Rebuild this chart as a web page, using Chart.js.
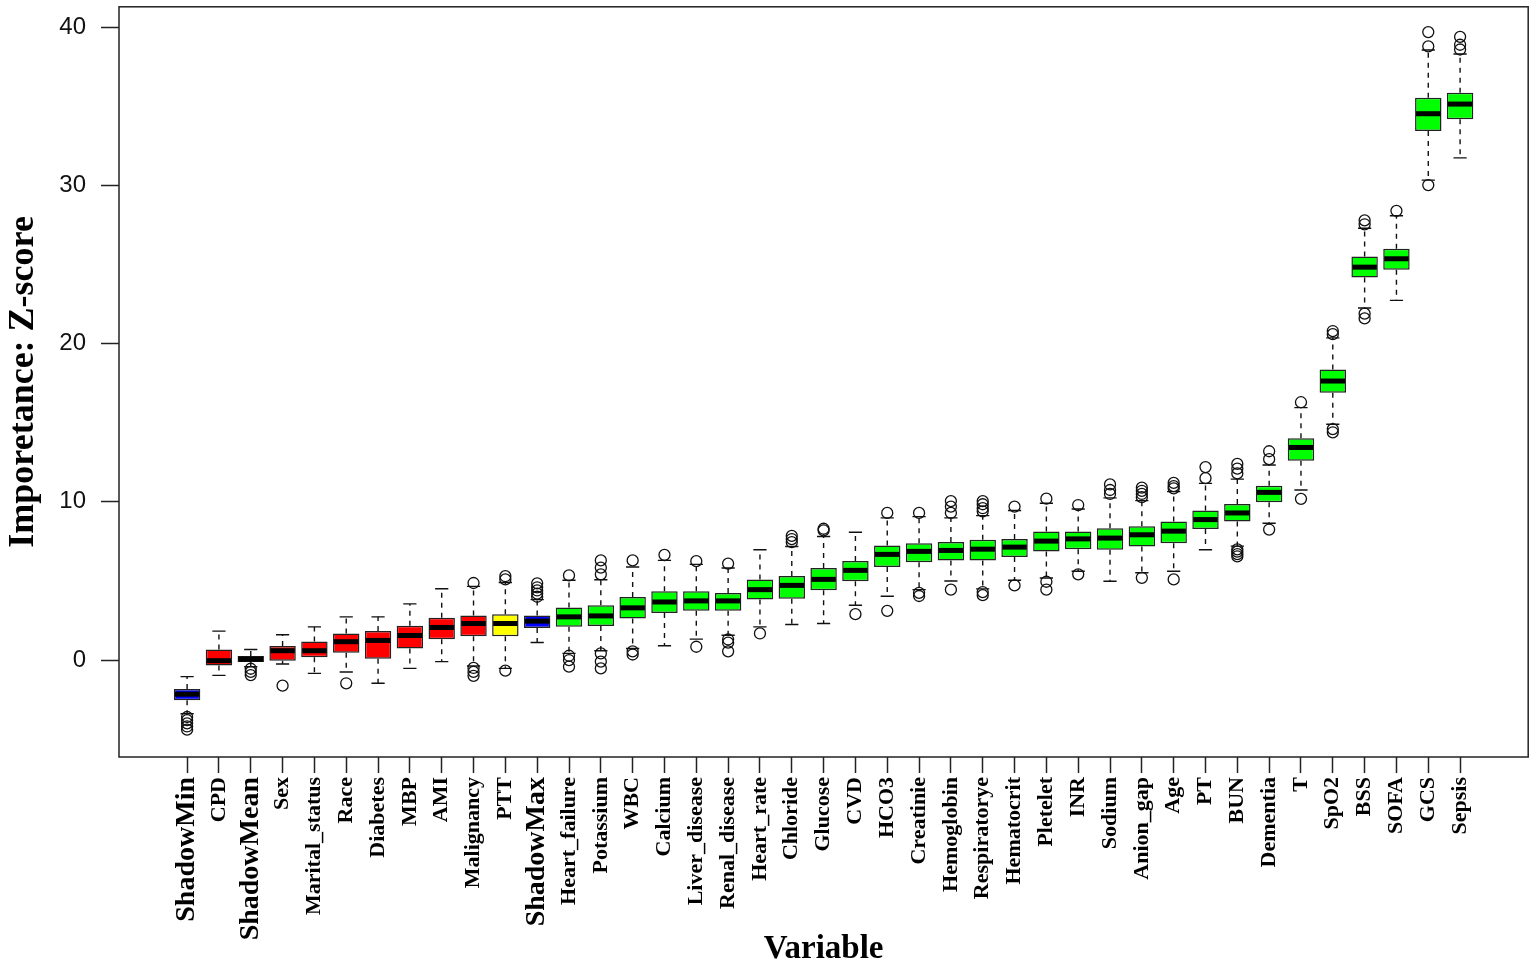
<!DOCTYPE html>
<html>
<head>
<meta charset="utf-8">
<script src="https://cdn.jsdelivr.net/npm/chart.js@4.4.1/dist/chart.umd.min.js"></script>
<style>
body { margin: 0; background: #fff; }
#wrap { width: 1535px; height: 961px; }
</style>
</head>
<body>
<div id="wrap"><canvas id="boruta" width="1535" height="961"></canvas></div>
<script>
var variables = ['ShadowMin', 'CPD', 'ShadowMean', 'Sex', 'Marital_status', 'Race', 'Diabetes', 'MBP', 'AMI', 'Malignancy',
    'PTT', 'ShadowMax', 'Heart_failure', 'Potassium', 'WBC', 'Calcium', 'Liver_disease', 'Renal_disease', 'Heart_rate', 'Chloride',
    'Glucose', 'CVD', 'HCO3', 'Creatinie', 'Hemoglobin', 'Respiratorye', 'Hematocrit', 'Pletelet', 'INR', 'Sodium',
    'Anion_gap', 'Age', 'PT', 'BUN', 'Dementia', 'T', 'SpO2', 'BSS', 'SOFA', 'GCS', 'Sepsis'];
var decision = ['Shadow', 'Rejected', 'Shadow', 'Rejected', 'Rejected', 'Rejected', 'Rejected', 'Rejected', 'Rejected', 'Rejected',
    'Tentative', 'Shadow', 'Confirmed', 'Confirmed', 'Confirmed', 'Confirmed', 'Confirmed', 'Confirmed', 'Confirmed', 'Confirmed',
    'Confirmed', 'Confirmed', 'Confirmed', 'Confirmed', 'Confirmed', 'Confirmed', 'Confirmed', 'Confirmed', 'Confirmed', 'Confirmed',
    'Confirmed', 'Confirmed', 'Confirmed', 'Confirmed', 'Confirmed', 'Confirmed', 'Confirmed', 'Confirmed', 'Confirmed', 'Confirmed', 'Confirmed'];
var lowerWhisker = [-3.4, -0.97, -0.42, -0.25, -0.84, -0.76, -1.47, -0.53, -0.1, -0.38,
    -0.53, 1.11, 0.42, 0.59, 0.73, 0.9, 1.32, 1.57, 2.1, 2.25,
    2.31, 3.46, 4.03, 4.45, 5.0, 4.5, 5.04, 5.19, 5.61, 4.98,
    5.52, 5.61, 6.97, 7.2, 8.65, 10.75, 14.91, 22.26, 22.74, 30.34, 31.75];
var lowerQuartile = [-2.54, -0.34, -0.13, -0.04, 0.17, 0.46, 0.08, 0.73, 1.32, 1.51,
    1.51, 2.02, 2.1, 2.16, 2.62, 2.98, 3.11, 3.11, 3.82, 3.88,
    4.41, 4.98, 5.88, 6.19, 6.3, 6.3, 6.51, 6.87, 7.01, 6.97,
    7.18, 7.39, 8.29, 8.76, 9.97, 12.6, 16.9, 24.19, 24.67, 33.45, 34.19];
var medians = [-2.16, -0.04, 0.06, 0.59, 0.59, 1.16, 1.24, 1.55, 2.06, 2.31,
    2.31, 2.46, 2.73, 2.79, 3.3, 3.67, 3.74, 3.74, 4.45, 4.72,
    5.1, 5.67, 6.68, 6.87, 6.93, 7.01, 7.14, 7.52, 7.66, 7.71,
    7.92, 8.15, 8.88, 9.3, 10.6, 13.44, 17.64, 24.84, 25.37, 34.54, 35.15];
var upperQuartile = [-1.83, 0.67, 0.25, 0.88, 1.18, 1.68, 1.83, 2.17, 2.67, 2.81,
    2.9, 2.81, 3.32, 3.46, 3.99, 4.35, 4.35, 4.24, 5.1, 5.31,
    5.82, 6.26, 7.24, 7.39, 7.46, 7.6, 7.66, 8.13, 8.13, 8.34,
    8.46, 8.76, 9.45, 9.87, 11.02, 14.03, 18.37, 25.51, 26.0, 35.55, 35.86];
var upperWhisker = [-1.05, 1.83, 0.67, 1.6, 2.1, 2.73, 2.73, 3.55, 4.51, 4.66,
    4.9, 3.82, 5.04, 5.08, 5.88, 6.3, 6.05, 5.82, 6.97, 7.18,
    7.81, 8.08, 8.99, 9.07, 8.99, 9.13, 9.45, 9.91, 9.55, 10.25,
    10.08, 10.65, 11.17, 11.44, 12.33, 15.96, 20.37, 27.3, 28.09, 38.57, 38.32];
var outliers = [
    [-3.6, -3.8, -4.0, -4.2, -4.4], [], [-0.55, -0.75, -0.95], [-1.62], [], [-1.47], [], [], [], [4.87, -0.5, -0.75, -1.0],
    [5.3, 5.1, -0.67], [4.0, 4.2, 4.4, 4.6, 4.85], [5.35, 0.27, 0.0, -0.42], [5.42, 5.84, 6.3, 0.42, -0.1, -0.53], [6.3, 0.55, 0.35], [6.65], [6.25, 0.84], [6.1, 1.3, 1.1, 0.55], [1.68], [7.45, 7.65, 7.85],
    [8.2, 8.3], [2.9], [9.3, 3.11], [9.3, 4.25, 4.05], [9.3, 9.7, 10.05, 4.45], [9.4, 9.6, 9.85, 10.05, 4.3, 4.1], [9.7, 4.72], [10.2, 4.95, 4.45], [9.8, 5.42], [10.5, 10.75, 11.1],
    [10.3, 10.5, 10.7, 10.9, 5.2], [10.85, 11.0, 11.2, 5.1], [11.5, 12.2], [11.8, 12.1, 12.4, 7.0, 6.85, 6.7, 6.55], [12.7, 13.2, 8.25], [16.3, 10.19], [20.6, 20.8, 14.6, 14.4], [27.55, 27.8, 21.9, 21.6], [28.4], [38.8, 39.7, 30.03], [38.6, 38.9, 39.4]
];
var yTicks = [0, 10, 20, 30, 40];

var fillColors = { Shadow: '#0000FF', Rejected: '#FF0000', Tentative: '#FFFF00', Confirmed: '#00FF00' };
var serif = 'Liberation Serif';

var boxData = variables.map(function (v, i) {
    return { x: i + 1, y: [lowerQuartile[i], upperQuartile[i]] };
});
var outlierData = [];
outliers.forEach(function (list, i) {
    list.forEach(function (v) { outlierData.push({ x: i + 1, y: v }); });
});

// whiskers behind the boxes, medians and frame on top
var boxParts = {
    id: 'boxParts',
    beforeDatasetsDraw: function (chart) {
        var ctx = chart.ctx, y = chart.scales.y;
        var bars = chart.getDatasetMeta(0).data;
        ctx.save();
        ctx.strokeStyle = '#111';
        ctx.lineWidth = 1.4;
        bars.forEach(function (bar, i) {
            var cap = bar.width / 4;
            var hi = y.getPixelForValue(upperWhisker[i]);
            var lo = y.getPixelForValue(lowerWhisker[i]);
            ctx.setLineDash([5, 5]);
            ctx.beginPath();
            ctx.moveTo(bar.x, y.getPixelForValue(upperQuartile[i]));
            ctx.lineTo(bar.x, hi);
            ctx.moveTo(bar.x, y.getPixelForValue(lowerQuartile[i]));
            ctx.lineTo(bar.x, lo);
            ctx.stroke();
            ctx.setLineDash([]);
            ctx.beginPath();
            ctx.moveTo(bar.x - cap, hi);
            ctx.lineTo(bar.x + cap, hi);
            ctx.moveTo(bar.x - cap, lo);
            ctx.lineTo(bar.x + cap, lo);
            ctx.stroke();
        });
        ctx.restore();
    },
    afterDatasetsDraw: function (chart) {
        var ctx = chart.ctx, y = chart.scales.y;
        var bars = chart.getDatasetMeta(0).data;
        ctx.save();
        ctx.strokeStyle = '#000';
        ctx.lineWidth = 5;
        bars.forEach(function (bar, i) {
            var m = y.getPixelForValue(medians[i]);
            ctx.beginPath();
            ctx.moveTo(bar.x - bar.width / 2 + 1, m);
            ctx.lineTo(bar.x + bar.width / 2 - 1, m);
            ctx.stroke();
        });
        var a = chart.chartArea;
        ctx.strokeStyle = '#222';
        ctx.lineWidth = 1.5;
        ctx.strokeRect(a.left, a.top, a.right - a.left, a.bottom - a.top);
        ctx.restore();
    }
};

new Chart(document.getElementById('boruta').getContext('2d'), {
    type: 'bar',
    data: {
        datasets: [{
            type: 'bar',
            data: boxData,
            backgroundColor: decision.map(function (d) { return fillColors[d]; }),
            borderColor: '#222',
            borderWidth: 1.5,
            borderSkipped: false,
            barPercentage: 0.83,
            categoryPercentage: 1
        }, {
            type: 'scatter',
            data: outlierData,
            pointStyle: 'circle',
            pointRadius: 5.5,
            pointBackgroundColor: 'rgba(0,0,0,0)',
            pointBorderColor: '#111',
            pointBorderWidth: 1.3
        }]
    },
    options: {
        responsive: false,
        animation: false,
        devicePixelRatio: 1,
        layout: { padding: { left: 0, top: 3, right: 4, bottom: 0 } },
        plugins: {
            legend: { display: false },
            tooltip: { enabled: false }
        },
        scales: {
            x: {
                type: 'linear',
                offset: false,
                min: -1.14,
                max: 43.14,
                afterBuildTicks: function (axis) {
                    axis.ticks = variables.map(function (v, i) { return { value: i + 1 }; });
                },
                afterFit: function (scale) {
                    scale.height = 204;
                    scale.paddingLeft = 0;
                    scale.paddingRight = 0;
                },
                border: { display: false },
                grid: { offset: false, drawOnChartArea: false, drawTicks: true, tickLength: 16, tickColor: '#222', tickWidth: 1.5 },
                ticks: {
                    autoSkip: false,
                    minRotation: 90,
                    maxRotation: 90,
                    padding: 4,
                    color: '#000',
                    callback: function (value, index) { return variables[index]; },
                    font: function (context) {
                        var big = variables[context.index] && variables[context.index].indexOf('Shadow') === 0;
                        return { family: serif, weight: 'bold', size: big ? 28 : 22 };
                    }
                },
                title: {
                    display: true,
                    text: 'Variable',
                    color: '#000',
                    padding: { top: 0, bottom: -5 },
                    font: { family: serif, weight: 'bold', size: 33, lineHeight: 1 }
                }
            },
            y: {
                min: -6.13,
                max: 41.3,
                afterBuildTicks: function (axis) {
                    axis.ticks = yTicks.map(function (v) { return { value: v }; });
                },
                afterFit: function (scale) {
                    scale.width = 119;
                    scale.paddingTop = 0;
                    scale.paddingBottom = 0;
                },
                border: { display: false },
                grid: { drawOnChartArea: false, drawTicks: true, tickLength: 18, tickColor: '#222', tickWidth: 1.5 },
                ticks: {
                    padding: 15,
                    color: '#111',
                    font: { family: 'Liberation Sans', size: 24 }
                },
                title: {
                    display: true,
                    text: 'Imporetance: Z-score',
                    color: '#000',
                    padding: { top: 6, bottom: 0 },
                    font: { family: serif, weight: 'bold', size: 36, lineHeight: 1 }
                }
            }
        }
    },
    plugins: [boxParts]
});
</script>
</body>
</html>
